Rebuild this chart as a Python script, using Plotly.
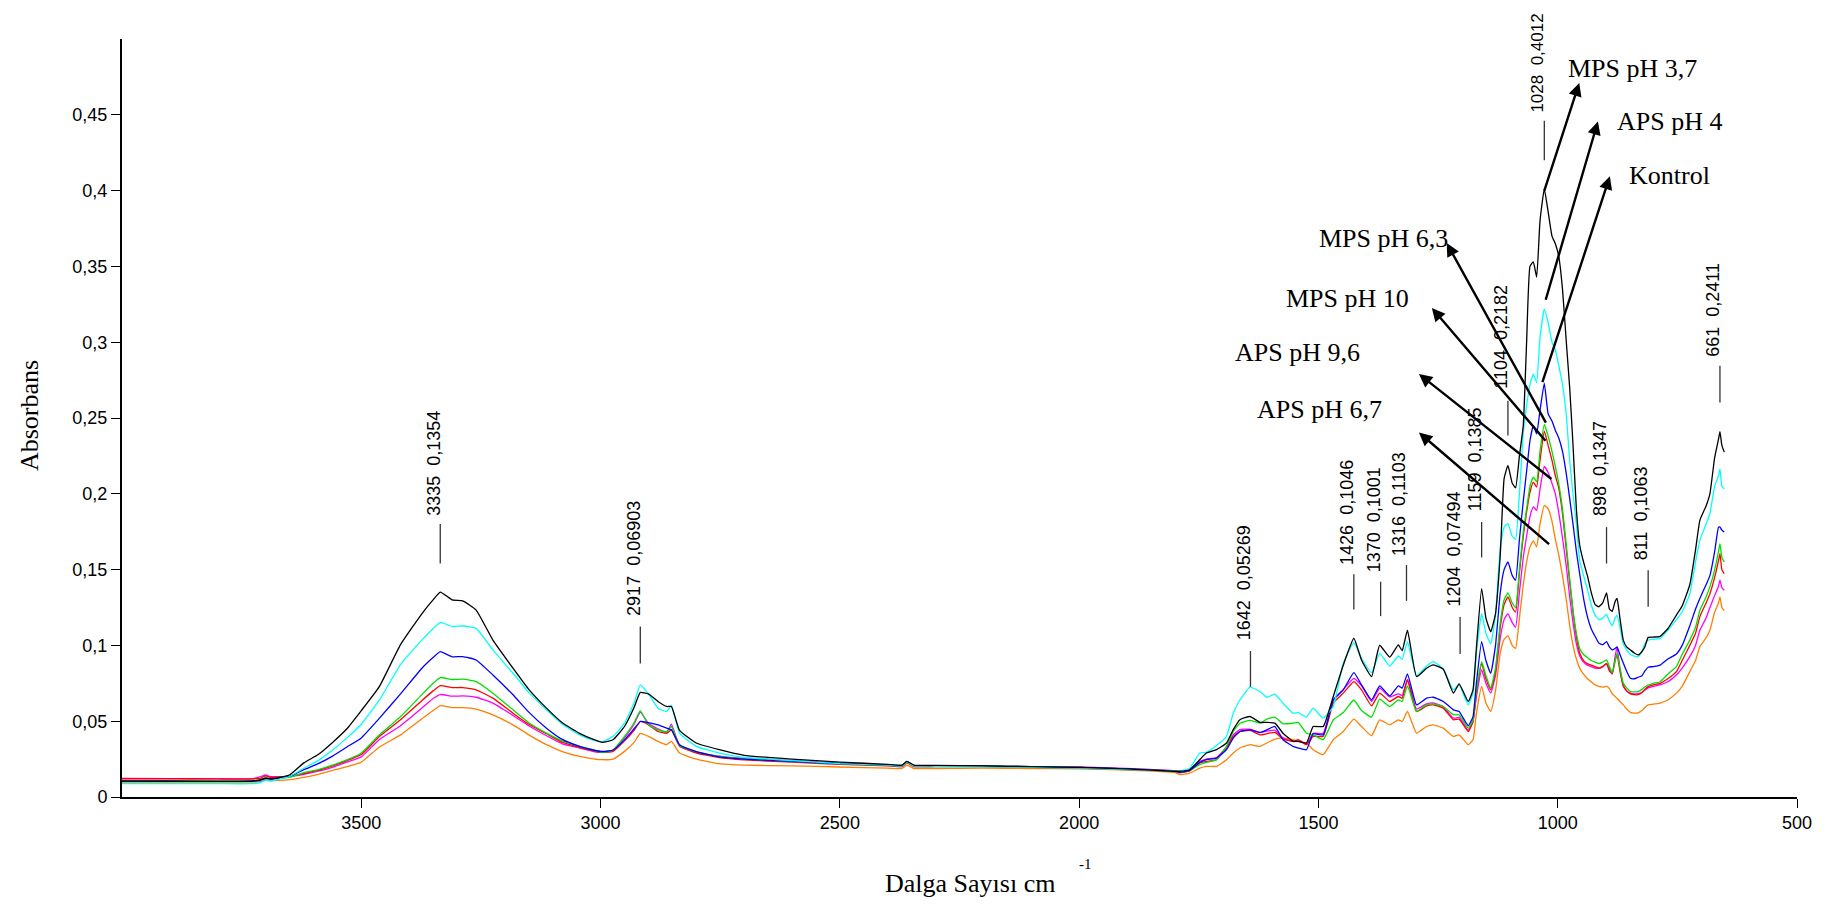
import plotly.graph_objects as go

# ---------------- data ----------------
wn_a = [4000, 3900, 3800, 3730, 3710, 3700, 3690, 3670, 3650, 3620, 3590, 3560, 3530, 3500, 3462, 3418,
        3372, 3350, 3335, 3310, 3288, 3260, 3225, 3183, 3150, 3113, 3080, 3044, 3015, 2996, 2974, 2950,
        2930, 2917, 2900, 2880, 2862, 2852, 2835, 2800, 2752, 2700, 2600, 2500, 2400, 2370, 2360, 2345,
        2300, 2200, 2100, 2000, 1900, 1800]
wn_b = [1790, 1769, 1748, 1734, 1713, 1692, 1678, 1664, 1643, 1622, 1608, 1591, 1574, 1553, 1542, 1525,
        1511, 1490, 1469, 1448, 1426, 1410, 1389, 1372, 1351, 1333, 1325, 1314, 1295, 1274, 1260, 1239,
        1218, 1206, 1187, 1177]
wn_c = [1170, 1159, 1150, 1140, 1130, 1120, 1112, 1104, 1095, 1088, 1080, 1072, 1065, 1058, 1051, 1044,
        1037, 1028, 1020, 1012, 1005, 998, 990, 982, 975, 968, 961, 954, 946, 938, 930, 922, 914, 906,
        898, 892, 886, 880, 876, 870, 863, 856, 848, 840, 832, 824, 818, 811, 800, 786, 770, 752, 740,
        724, 712, 703, 690, 682, 672, 664, 661, 657, 652]
wavenumbers = wn_a + wn_b + wn_c

mps_37 = [  # black
    0.0105, 0.0104, 0.0103, 0.0105, 0.0115, 0.0125, 0.012, 0.013, 0.0145, 0.0225, 0.028, 0.036, 0.045, 0.057,
    0.073, 0.1005, 0.1215, 0.13, 0.1352, 0.13, 0.1294, 0.1233, 0.1035, 0.085, 0.071, 0.0586, 0.049, 0.042,
    0.038, 0.036, 0.0378, 0.0465, 0.059, 0.069, 0.068, 0.063, 0.0597, 0.0597, 0.044, 0.0356, 0.0312, 0.0275,
    0.025, 0.023, 0.0215, 0.021, 0.0235, 0.021, 0.0208, 0.0205, 0.020, 0.0195, 0.0185, 0.017,
    0.017, 0.018, 0.0246, 0.029, 0.0312, 0.0356, 0.0444, 0.051, 0.0531, 0.0492, 0.0492, 0.0487, 0.0421, 0.0367,
    0.0367, 0.0356, 0.0465, 0.0465, 0.0663, 0.0871, 0.1047, 0.0904, 0.0794, 0.1001, 0.0922, 0.1003, 0.0965,
    0.110, 0.0794, 0.0849, 0.0871, 0.0843, 0.0685, 0.0746, 0.063, 0.0707,
    0.098, 0.1375, 0.118, 0.109, 0.121, 0.16, 0.21, 0.2187, 0.207, 0.204, 0.225, 0.245, 0.30, 0.35, 0.353,
    0.343, 0.38, 0.4012, 0.386, 0.37, 0.365, 0.357, 0.335, 0.30, 0.27, 0.232, 0.19, 0.166, 0.155, 0.146,
    0.135, 0.127, 0.1255, 0.128, 0.1347, 0.124, 0.1225, 0.129, 0.131, 0.118, 0.1035, 0.099, 0.097, 0.095,
    0.0937, 0.096, 0.099, 0.1053, 0.1055, 0.106, 0.111, 0.12, 0.126, 0.14, 0.163, 0.1825, 0.192, 0.2, 0.224,
    0.236, 0.241, 0.232, 0.2275]

aps_4 = [  # cyan
    0.0088, 0.0088, 0.0088, 0.0088, 0.0095, 0.011, 0.0105, 0.012, 0.0135, 0.019, 0.024, 0.031, 0.039, 0.048,
    0.064, 0.0873, 0.104, 0.111, 0.1152, 0.1125, 0.1128, 0.1112, 0.097, 0.0816, 0.069, 0.0575, 0.048, 0.041,
    0.0375, 0.0365, 0.040, 0.0487, 0.062, 0.074, 0.068, 0.0586, 0.0564, 0.0604, 0.0421, 0.0334, 0.029, 0.0262,
    0.024, 0.022, 0.021, 0.0205, 0.023, 0.0205, 0.0202, 0.020, 0.0195, 0.019, 0.018, 0.0172,
    0.017, 0.019, 0.029, 0.0295, 0.034, 0.040, 0.0553, 0.064, 0.0724, 0.0696, 0.0658, 0.0678, 0.0619, 0.0553,
    0.0557, 0.0527, 0.0586, 0.052, 0.0597, 0.0882, 0.1018, 0.0915, 0.082, 0.0948, 0.0864, 0.093, 0.0908,
    0.1025, 0.0799, 0.0864, 0.0893, 0.0843, 0.0707, 0.074, 0.0608, 0.0685,
    0.095, 0.121, 0.108, 0.101, 0.12, 0.165, 0.178, 0.1803, 0.172, 0.17, 0.20, 0.24, 0.258, 0.272, 0.279,
    0.2735, 0.303, 0.3218, 0.313, 0.30, 0.295, 0.285, 0.272, 0.252, 0.222, 0.20, 0.18, 0.156, 0.146, 0.137,
    0.127, 0.12, 0.117, 0.118, 0.1205, 0.116, 0.113, 0.118, 0.12, 0.112, 0.101, 0.097, 0.094, 0.093,
    0.0926, 0.096, 0.101, 0.1035, 0.104, 0.1046, 0.11, 0.117, 0.122, 0.134, 0.155, 0.1693, 0.18, 0.187, 0.205,
    0.212, 0.2165, 0.205, 0.2033]

kontrol = [  # blue
    0.0105, 0.0104, 0.0103, 0.0104, 0.011, 0.0122, 0.0118, 0.0125, 0.0135, 0.018, 0.022, 0.027, 0.033, 0.039,
    0.052, 0.068, 0.0854, 0.092, 0.0959, 0.0925, 0.0926, 0.0904, 0.0805, 0.0674, 0.056, 0.0454, 0.038, 0.0334,
    0.031, 0.030, 0.031, 0.0377, 0.045, 0.0498, 0.049, 0.0476, 0.0455, 0.0443, 0.0345, 0.030, 0.0264, 0.025,
    0.0235, 0.022, 0.021, 0.0205, 0.0232, 0.0205, 0.0205, 0.0205, 0.020, 0.0195, 0.0185, 0.017,
    0.0163, 0.0176, 0.0228, 0.0246, 0.0257, 0.0312, 0.0389, 0.0432, 0.0443, 0.0426, 0.0443, 0.0465, 0.0378,
    0.0334, 0.0323, 0.0312, 0.0417, 0.041, 0.064, 0.0707, 0.082, 0.074, 0.064, 0.0733, 0.0667, 0.0733, 0.0718,
    0.0812, 0.0608, 0.0652, 0.0658, 0.063, 0.0575, 0.0564, 0.047, 0.053,
    0.075, 0.1025, 0.09, 0.0816, 0.10, 0.135, 0.15, 0.155, 0.146, 0.143, 0.17, 0.195, 0.215, 0.235, 0.245,
    0.2395, 0.255, 0.273, 0.2527, 0.248, 0.242, 0.237, 0.228, 0.213, 0.197, 0.18, 0.162, 0.147, 0.131, 0.119,
    0.111, 0.106, 0.1015, 0.1005, 0.1025, 0.099, 0.097, 0.098, 0.099, 0.094, 0.0884, 0.083, 0.0783, 0.078,
    0.079, 0.080, 0.083, 0.0856, 0.086, 0.087, 0.091, 0.0943, 0.1, 0.113, 0.124, 0.131, 0.14, 0.146, 0.162,
    0.178, 0.178, 0.176, 0.1748]

mps_63 = [  # green
    0.0108, 0.0108, 0.0107, 0.0108, 0.0115, 0.0128, 0.012, 0.0125, 0.013, 0.016, 0.018, 0.021, 0.0245, 0.029,
    0.041, 0.053, 0.068, 0.075, 0.0788, 0.0775, 0.0777, 0.0761, 0.0685, 0.0575, 0.049, 0.0421, 0.037, 0.0334,
    0.031, 0.0294, 0.031, 0.040, 0.049, 0.057, 0.0476, 0.0443, 0.043, 0.0465, 0.034, 0.030, 0.0268, 0.0252,
    0.0235, 0.022, 0.021, 0.0205, 0.0232, 0.0205, 0.0205, 0.0205, 0.020, 0.0195, 0.0185, 0.017,
    0.0163, 0.0176, 0.0213, 0.0228, 0.0246, 0.0334, 0.0432, 0.0487, 0.0505, 0.0487, 0.0514, 0.0527, 0.0483,
    0.0487, 0.0492, 0.0421, 0.041, 0.0378, 0.0509, 0.0557, 0.064, 0.057, 0.0527, 0.0645, 0.0597, 0.064, 0.063,
    0.0733, 0.0564, 0.0608, 0.0614, 0.0597, 0.0542, 0.0542, 0.0454, 0.051,
    0.07, 0.0893, 0.08, 0.0718, 0.085, 0.115, 0.13, 0.1347, 0.128, 0.125, 0.15, 0.175, 0.19, 0.205, 0.211,
    0.208, 0.228, 0.2457, 0.238, 0.228, 0.218, 0.207, 0.19, 0.166, 0.144, 0.123, 0.108, 0.098, 0.094, 0.092,
    0.09, 0.089, 0.088, 0.089, 0.0904, 0.086, 0.082, 0.09, 0.095, 0.085, 0.075, 0.072, 0.0696, 0.0693,
    0.0695, 0.071, 0.0725, 0.0739, 0.075, 0.076, 0.081, 0.086, 0.094, 0.1035, 0.112, 0.123, 0.132, 0.1386, 0.15,
    0.162, 0.167, 0.158, 0.155]

mps_10 = [  # red
    0.0122, 0.0121, 0.012, 0.012, 0.0125, 0.014, 0.013, 0.0132, 0.0135, 0.0155, 0.0175, 0.0205, 0.024, 0.028,
    0.040, 0.051, 0.064, 0.070, 0.0735, 0.0722, 0.0722, 0.0707, 0.0652, 0.0553, 0.048, 0.0417, 0.036, 0.0328,
    0.0305, 0.0294, 0.030, 0.037, 0.044, 0.0498, 0.0476, 0.0432, 0.042, 0.0443, 0.0335, 0.029, 0.026, 0.0245,
    0.023, 0.0215, 0.0205, 0.020, 0.0225, 0.020, 0.020, 0.020, 0.0195, 0.019, 0.018, 0.0168,
    0.016, 0.0172, 0.0224, 0.0235, 0.0246, 0.0323, 0.04, 0.0432, 0.0439, 0.041, 0.0417, 0.0426, 0.0382, 0.0367,
    0.0378, 0.0345, 0.04, 0.04, 0.0619, 0.0685, 0.0761, 0.0707, 0.0601, 0.0685, 0.063, 0.0663, 0.0652, 0.0773,
    0.0564, 0.0601, 0.0608, 0.0586, 0.0509, 0.0514, 0.0432, 0.0498,
    0.068, 0.088, 0.078, 0.0707, 0.083, 0.112, 0.127, 0.132, 0.125, 0.122, 0.148, 0.172, 0.188, 0.201, 0.2077,
    0.2044, 0.222, 0.2413, 0.232, 0.222, 0.212, 0.204, 0.187, 0.163, 0.142, 0.122, 0.106, 0.095, 0.09, 0.088,
    0.087, 0.086, 0.085, 0.086, 0.088, 0.083, 0.0816, 0.09, 0.094, 0.083, 0.073, 0.07, 0.068, 0.0675,
    0.0675, 0.069, 0.071, 0.0728, 0.074, 0.075, 0.078, 0.0827, 0.09, 0.1, 0.108, 0.119, 0.128, 0.134, 0.145,
    0.156, 0.1606, 0.15, 0.1474]

aps_96 = [  # magenta
    0.012, 0.012, 0.0119, 0.0119, 0.0135, 0.0145, 0.0135, 0.0135, 0.0135, 0.015, 0.017, 0.0195, 0.023, 0.0265,
    0.038, 0.047, 0.059, 0.065, 0.0676, 0.0665, 0.0667, 0.0658, 0.0619, 0.0538, 0.047, 0.0404, 0.035, 0.0323,
    0.030, 0.0294, 0.0305, 0.039, 0.048, 0.056, 0.0487, 0.045, 0.0425, 0.048, 0.034, 0.0295, 0.027, 0.0255,
    0.024, 0.0222, 0.021, 0.0205, 0.0235, 0.0205, 0.0205, 0.0205, 0.020, 0.0198, 0.0188, 0.0172,
    0.0165, 0.018, 0.0235, 0.025, 0.026, 0.033, 0.041, 0.0445, 0.0447, 0.0425, 0.0435, 0.044, 0.039, 0.0365,
    0.037, 0.035, 0.042, 0.042, 0.064, 0.071, 0.0783, 0.0735, 0.063, 0.0718, 0.066, 0.068, 0.067, 0.0775,
    0.058, 0.0615, 0.062, 0.0595, 0.052, 0.0525, 0.044, 0.05,
    0.066, 0.0838, 0.075, 0.0685, 0.08, 0.105, 0.117, 0.121, 0.115, 0.112, 0.135, 0.158, 0.172, 0.185, 0.1913,
    0.189, 0.203, 0.218, 0.214, 0.207, 0.2, 0.188, 0.171, 0.152, 0.132, 0.115, 0.101, 0.093, 0.089, 0.087,
    0.086, 0.085, 0.085, 0.086, 0.0882, 0.0845, 0.081, 0.093, 0.0987, 0.085, 0.074, 0.07, 0.0685, 0.068,
    0.0682, 0.069, 0.0705, 0.072, 0.073, 0.074, 0.076, 0.0805, 0.085, 0.0926, 0.1, 0.11, 0.118, 0.125, 0.133,
    0.139, 0.143, 0.138, 0.1364]

aps_67 = [  # orange
    0.0098, 0.0098, 0.0098, 0.0098, 0.0102, 0.0112, 0.0108, 0.011, 0.0115, 0.013, 0.015, 0.0175, 0.020, 0.023,
    0.033, 0.041, 0.052, 0.057, 0.0603, 0.059, 0.059, 0.058, 0.0542, 0.0476, 0.041, 0.0345, 0.030, 0.0268,
    0.0252, 0.0246, 0.025, 0.0301, 0.036, 0.042, 0.040, 0.0367, 0.0345, 0.0367, 0.029, 0.025, 0.022, 0.021,
    0.0205, 0.0198, 0.019, 0.0188, 0.021, 0.0188, 0.0188, 0.019, 0.0188, 0.0185, 0.0178, 0.0162,
    0.0147, 0.0158, 0.019, 0.0202, 0.0202, 0.0246, 0.029, 0.0323, 0.0345, 0.0334, 0.0356, 0.0382, 0.0388,
    0.0378, 0.0367, 0.0356, 0.0312, 0.0279, 0.0378, 0.0432, 0.0514, 0.0465, 0.0404, 0.0509, 0.0476, 0.0509,
    0.0498, 0.0564, 0.0421, 0.0465, 0.0476, 0.0454, 0.0399, 0.041, 0.0345, 0.0378,
    0.055, 0.0729, 0.062, 0.0564, 0.07, 0.095, 0.104, 0.1065, 0.1, 0.098, 0.118, 0.14, 0.155, 0.165, 0.169,
    0.165, 0.18, 0.1924, 0.19, 0.182, 0.17, 0.16, 0.146, 0.13, 0.113, 0.1, 0.091, 0.085, 0.081, 0.078,
    0.076, 0.074, 0.073, 0.0725, 0.0729, 0.0715, 0.068, 0.0663, 0.065, 0.063, 0.0608, 0.058, 0.0558, 0.0553,
    0.0555, 0.057, 0.059, 0.0608, 0.0612, 0.062, 0.064, 0.0685, 0.073, 0.0827, 0.09, 0.0992, 0.105, 0.11, 0.122,
    0.128, 0.132, 0.125, 0.123]

series_names = ["APS pH 6,7", "APS pH 9,6", "MPS pH 10", "MPS pH 6,3", "Kontrol", "APS pH 4", "MPS pH 3,7"]
series_values = [aps_67, aps_96, mps_10, mps_63, kontrol, aps_4, mps_37]
series_colors = ["#FF7F00", "#FF00FF", "#FF0000", "#00E000", "#0000FF", "#00FFFF", "#000000"]

# peak labels: wavenumber, absorbance text
peak_wn = [3335, 2917, 1642, 1426, 1370, 1316, 1204, 1159, 1104, 1028, 898, 811, 661]
peak_abs = ["0,1354", "0,06903", "0,05269", "0,1046", "0,1001", "0,1103", "0,07494",
            "0,1385", "0,2182", "0,4012", "0,1347", "0,1063", "0,2411"]

y_tick_vals = [0, 0.05, 0.1, 0.15, 0.2, 0.25, 0.3, 0.35, 0.4, 0.45]
y_tick_text = ["0", "0,05", "0,1", "0,15", "0,2", "0,25", "0,3", "0,35", "0,4", "0,45"]
x_tick_vals = [3500, 3000, 2500, 2000, 1500, 1000, 500]

for s in series_values:
    assert len(s) == len(wavenumbers), (len(s), len(wavenumbers))

# ---------------- figure ----------------
fig = go.Figure()
for name, vals, col in zip(series_names, series_values, series_colors):
    fig.add_trace(go.Scatter(x=wavenumbers, y=vals, mode="lines", name=name,
                             line=dict(color=col, width=1.3, shape="spline", smoothing=0.4),
                             showlegend=False, hoverinfo="skip"))

SANS = "Liberation Sans, Arial, sans-serif"
SERIF = "Liberation Serif, Times New Roman, serif"

# peak marker layout (line bottom, line top, text bottom, font size) in absorbance units
peak_layout = [(0.154, 0.180, 0.184, 18), (0.088, 0.1125, 0.118, 18), (0.0727, 0.0963, 0.102, 18),
               (0.1237, 0.147, 0.152, 18), (0.1193, 0.142, 0.147, 18), (0.1294, 0.153, 0.158, 18),
               (0.0943, 0.1187, 0.124, 18), (0.158, 0.1814, 0.187, 18), (0.2385, 0.2614, 0.268, 18),
               (0.42, 0.446, 0.450, 17), (0.154, 0.178, 0.184, 18), (0.1255, 0.1496, 0.155, 18),
               (0.2603, 0.2845, 0.289, 18)]

shapes = []
annotations = []
for w, a, (lb, lt, tb, fs) in zip(peak_wn, peak_abs, peak_layout):
    shapes.append(dict(type="line", xref="x", yref="y", x0=w, x1=w, y0=lb, y1=lt,
                       line=dict(color="#333333", width=1.3)))
    annotations.append(dict(x=w, y=tb, xref="x", yref="y", text=f"{w}\u00a0\u00a0{a}",
                            textangle=-90, showarrow=False, xanchor="center", yanchor="bottom",
                            xshift=-7, font=dict(family=SANS, size=fs, color="#000000")))

# arrows: (tail wn, tail abs) -> (tip wn, tip abs)
arrows = [((1029, 0.399), (955, 0.471)),
          ((1026, 0.327), (916, 0.4456)),
          ((1033, 0.2726), (891, 0.4095)),
          ((1023, 0.246), (1232, 0.3654)),
          ((1023, 0.234), (1263, 0.3226)),
          ((1010, 0.209), (1290, 0.279)),
          ((1015, 0.166), (1290, 0.2404))]
for (tw, tv), (hw, hv) in arrows:
    annotations.append(dict(x=hw, y=hv, ax=tw, ay=tv, xref="x", yref="y", axref="x", ayref="y",
                            text="", showarrow=True, arrowhead=2, arrowsize=1.1, arrowwidth=2.4,
                            arrowcolor="#000000"))

legend_pos = {"MPS pH 3,7": (843, 0.4805), "APS pH 4": (766, 0.4453), "Kontrol": (766, 0.4098),
              "MPS pH 6,3": (1363, 0.3682), "MPS pH 10": (1439, 0.329), "APS pH 9,6": (1544, 0.2935),
              "APS pH 6,7": (1498, 0.2558)}
for name, (lw, lv) in legend_pos.items():
    annotations.append(dict(x=lw, y=lv, xref="x", yref="y", text=name, showarrow=False,
                            xanchor="center", yanchor="middle",
                            font=dict(family=SERIF, size=26, color="#000000")))

# axis titles
annotations.append(dict(x=0.506, y=-0.114, xref="paper", yref="paper", text="Dalga Sayısı cm",
                        showarrow=False, xanchor="center", yanchor="middle",
                        font=dict(family=SERIF, size=26, color="#000000")))
annotations.append(dict(x=0.575, y=-0.089, xref="paper", yref="paper", text="-1",
                        showarrow=False, xanchor="center", yanchor="middle",
                        font=dict(family=SERIF, size=15, color="#000000")))
annotations.append(dict(x=-0.0553, y=0.503, xref="paper", yref="paper", text="Absorbans",
                        showarrow=False, xanchor="center", yanchor="middle", textangle=-90,
                        font=dict(family=SERIF, size=26, color="#000000")))

fig.update_layout(
    width=1828, height=898,
    margin=dict(l=114, r=39, t=31, b=109),
    paper_bgcolor="white", plot_bgcolor="white",
    shapes=shapes, annotations=annotations,
    xaxis=dict(range=[4000, 500], tickvals=x_tick_vals, ticks="outside", ticklen=9, tickwidth=1,
               tickcolor="#000000", showline=True, linecolor="#000000", linewidth=1.5,
               showgrid=False, zeroline=False, tickfont=dict(family=SANS, size=18, color="#000000")),
    yaxis=dict(range=[0, 0.5], tickvals=y_tick_vals, ticktext=y_tick_text, ticks="outside", ticklen=9,
               tickwidth=1, tickcolor="#000000", showline=True, linecolor="#000000", linewidth=2,
               showgrid=False, zeroline=False, tickfont=dict(family=SANS, size=18, color="#000000")),
)

fig.write_html("out.html")
